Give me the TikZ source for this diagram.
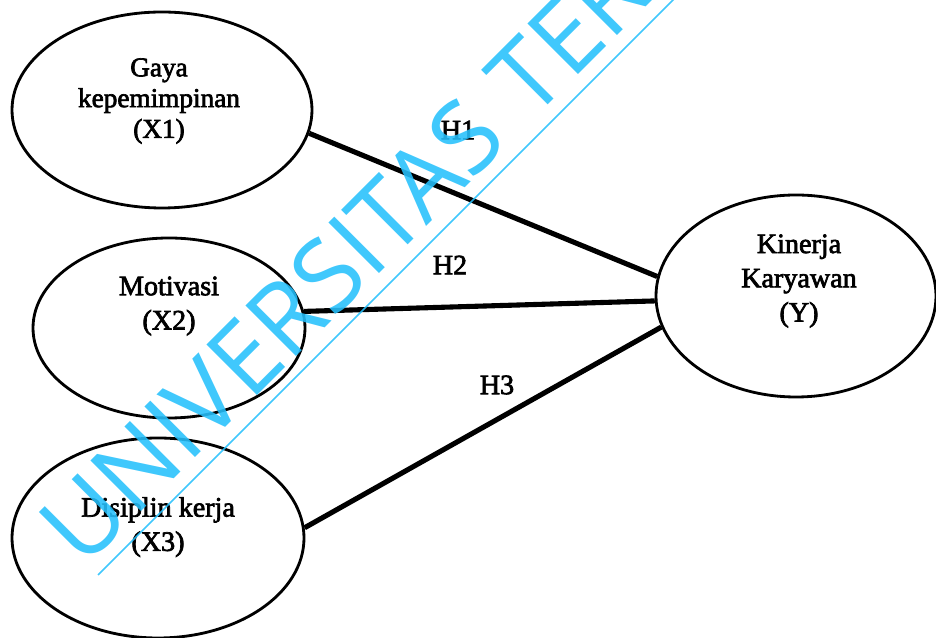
\documentclass[tikz,border=0pt]{standalone}
\usepackage{fontspec}
\setmainfont{Liberation Serif}[FakeBold=2.5]
\newfontfamily\wmfont{Open Sans}[WordSpace=1.2]
\usetikzlibrary{shapes.geometric}
\definecolor{wmcyan}{RGB}{38,192,252}
\tikzset{
  varellipse/.style={ellipse,draw,line width=1.6pt,inner sep=0pt},
  vartext/.style={align=center,font=\fontsize{16}{19.5}\selectfont},
  hyplabel/.style={font=\fontsize{16}{19.5}\selectfont},
  hypline/.style={line width=2.9pt},
  wmtext/.style={text=wmcyan,font=\wmfont\fontsize{57}{64}\selectfont,inner sep=0pt}
}

\begin{document}
\begin{tikzpicture}
\useasboundingbox (0,0) rectangle (18.72,12.76);
\clip (0,0) rectangle (18.72,12.76);

\node[varellipse,minimum width=6cm,minimum height=3.92cm] (gayakep) at (3.24,10.56) {};
\node[varellipse,minimum width=5.44cm,minimum height=3.6cm] (motivasi) at (3.38,6.20) {};
\node[varellipse,minimum width=5.84cm,minimum height=4cm] (disiplin) at (3.16,2.0) {};
\node[varellipse,minimum width=5.6cm,minimum height=4.04cm] (kinerja) at (15.92,6.84) {};

\node[vartext,font=\fontsize{15.5}{17.5}\selectfont] (gayakeptxt) at (3.18,10.74) {Gaya\\kepemimpinan\\(X1)};
\node[vartext] (motivasitxt) at (3.38,6.64) {Motivasi\\(X2)};
\node[vartext] (disiplintxt) at (3.16,2.22) {Disiplin kerja\\(X3)};
\node[vartext] (kinerjatxt) at (15.98,7.14) {Kinerja\\Karyawan\\(Y)};

\draw[hypline] (gayakep.-9) -- (kinerja.172);
\draw[hypline] (motivasi.7) -- (kinerja.182);
\draw[hypline] (disiplin.4) -- (kinerja.193);

\node[hyplabel] (hone) at (9.16,10.16) {H1};
\node[hyplabel] (htwo) at (9.0,7.46) {H2};
\node[hyplabel] (hthree) at (9.94,5.06) {H3};

% watermark
\begin{scope}[opacity=0.88]
\node[wmtext,rotate=45,anchor=base west] (wmark) at (1.66,1.36) {UNIVERSITAS TER};
\coordinate (wmlinea) at (1.96,1.26);
\coordinate (wmlineb) at (14.0,13.3);
\draw[wmcyan,line width=1pt] (wmlinea) -- (wmlineb);
\end{scope}

\end{tikzpicture}
\end{document}
